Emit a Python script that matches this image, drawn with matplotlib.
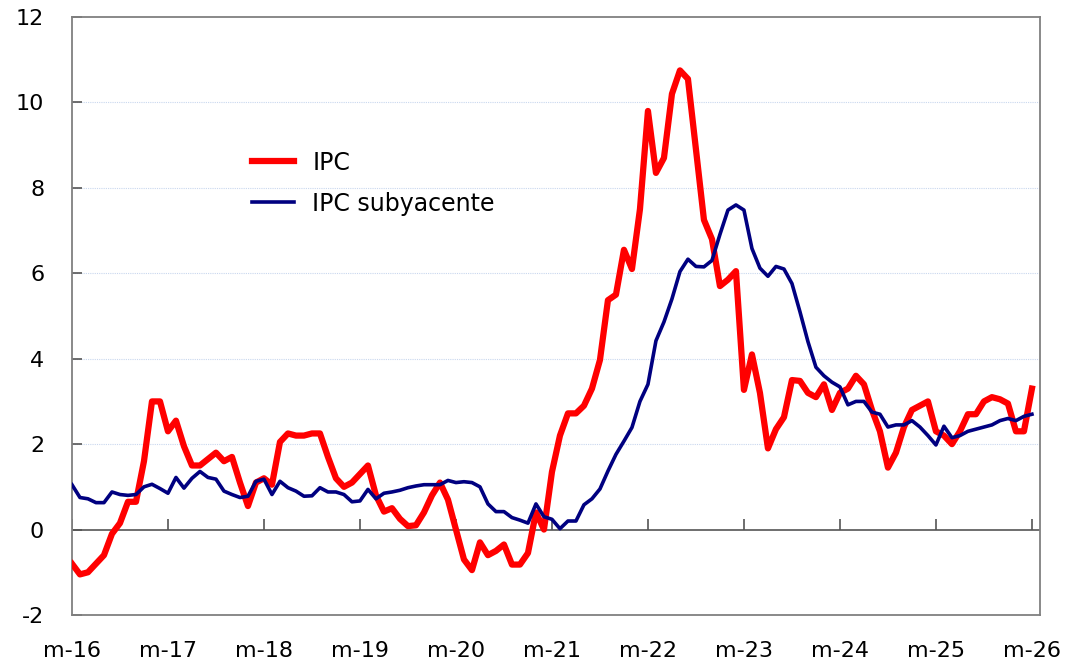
import matplotlib
matplotlib.use("Agg")
import matplotlib.pyplot as plt
import numpy as np

# IPC general y subyacente, tasa interanual (%), mensual mar-2016 a mar-2026
ipc = [
    -0.8, -1.05, -1.0, -0.8, -0.6, -0.1, 0.15, 0.65, 0.65, 1.6,
    3.0, 3.0, 2.3, 2.55, 1.95, 1.5, 1.5, 1.65, 1.8, 1.6, 1.7, 1.1,
    0.55, 1.1, 1.2, 1.05, 2.05, 2.25, 2.2, 2.2, 2.25, 2.25, 1.7, 1.2,
    1.0, 1.1, 1.3, 1.5, 0.8, 0.42, 0.5, 0.25, 0.08, 0.1, 0.4, 0.8,
    1.1, 0.7, 0.0, -0.7, -0.95, -0.3, -0.6, -0.5, -0.35, -0.82, -0.82, -0.55,
    0.4, 0.0, 1.35, 2.2, 2.72, 2.72, 2.9, 3.3, 3.97, 5.37, 5.5, 6.55,
    6.1, 7.5, 9.8, 8.35, 8.7, 10.2, 10.75, 10.55, 8.9, 7.25, 6.8, 5.7,
    5.85, 6.05, 3.27, 4.1, 3.2, 1.9, 2.35, 2.63, 3.5, 3.48, 3.2, 3.1,
    3.4, 2.8, 3.2, 3.3, 3.6, 3.4, 2.8, 2.3, 1.45, 1.8, 2.4, 2.8,
    2.9, 3.0, 2.3, 2.2, 2.0, 2.3, 2.7, 2.7, 3.0, 3.1, 3.05, 2.95,
    2.3, 2.3, 3.3,
]
ipc_sub = [
    1.05, 0.75, 0.72, 0.63, 0.63, 0.88, 0.82, 0.8, 0.82, 1.0,
    1.06, 0.96, 0.85, 1.22, 0.97, 1.2, 1.36, 1.22, 1.18, 0.9, 0.82, 0.75,
    0.78, 1.13, 1.18, 0.82, 1.13, 0.98, 0.9, 0.78, 0.79, 0.98, 0.88, 0.88,
    0.82, 0.65, 0.67, 0.94, 0.72, 0.85, 0.88, 0.92, 0.98, 1.02, 1.05, 1.05,
    1.05, 1.15, 1.1, 1.12, 1.1, 1.0, 0.6, 0.42, 0.42, 0.28, 0.22, 0.15,
    0.6, 0.3, 0.24, 0.02, 0.2, 0.2, 0.58, 0.72, 0.95, 1.37, 1.76, 2.07,
    2.39, 3.0, 3.4, 4.42, 4.86, 5.4, 6.04, 6.33, 6.16, 6.15, 6.3, 6.91,
    7.48, 7.6, 7.48, 6.58, 6.12, 5.93, 6.16, 6.1, 5.76, 5.1, 4.4, 3.8,
    3.6, 3.45, 3.34, 2.92, 3.0, 3.0, 2.75, 2.7, 2.4, 2.45, 2.45, 2.55,
    2.4, 2.2, 1.98, 2.42, 2.15, 2.2, 2.3, 2.35, 2.4, 2.45, 2.55, 2.6,
    2.55, 2.65, 2.7,
]
tick_labels = ["m-16", "m-17", "m-18", "m-19", "m-20", "m-21",
               "m-22", "m-23", "m-24", "m-25", "m-26"]
y_ticks = [-2, 0, 2, 4, 6, 8, 10, 12]

plt.rcParams['font.family'] = ['DejaVu Sans']
plt.rcParams['axes.unicode_minus'] = False

fig = plt.figure(figsize=(10.71, 6.67), dpi=100)
ax = fig.add_axes([0.0672, 0.078, 0.9038, 0.8965])

x = np.arange(len(ipc))
ax.plot(x, ipc, color='#ff0000', linewidth=4.5, label='IPC', zorder=3)
ax.plot(x, ipc_sub, color='#000080', linewidth=2.6, label='IPC subyacente', zorder=4)

ax.set_xlim(0, len(ipc))
ax.set_ylim(-2, 12)

# rejilla horizontal
for v in y_ticks[2:-1]:
    ax.axhline(v, color='#c9d7ee', linewidth=0.8, linestyle=(0, (1, 1)), zorder=1)
ax.axhline(0, color='#555555', linewidth=1.2, zorder=2)

# marcas del eje x sobre la linea de cero
xt = np.arange(0, len(ipc), 12)
ax.vlines(xt, 0, 0.24, color='#555555', linewidth=1.2, zorder=2)

ax.set_xticks(xt)
ax.set_xticklabels(tick_labels)
ax.tick_params(axis='x', length=0, pad=19, labelsize=16)
ax.set_yticks(y_ticks)
ax.tick_params(axis='y', direction='in', length=7, width=1.2, color='#555555',
               pad=20, labelsize=16)

for sp in ax.spines.values():
    sp.set_color('#808080')
    sp.set_linewidth(1.3)

ax.legend(loc='upper left', bbox_to_anchor=(0.164, 0.812), frameon=False,
          fontsize=17, handlelength=1.8, handletextpad=0.75, labelspacing=0.72)

fig.savefig('out.png', dpi=100)
